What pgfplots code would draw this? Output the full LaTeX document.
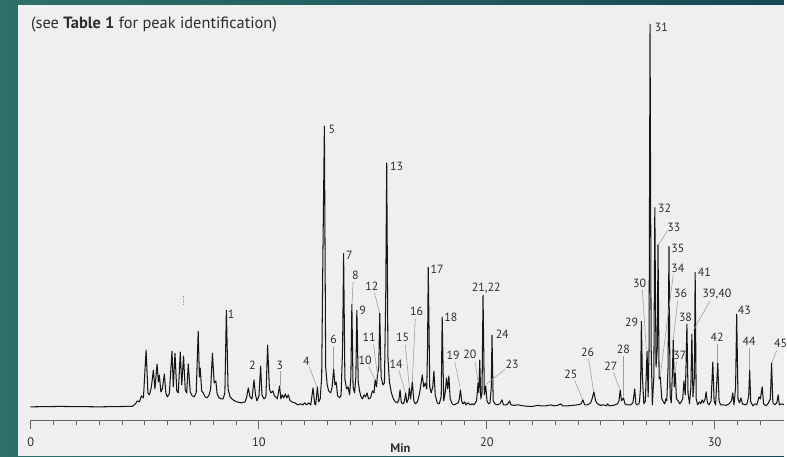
\documentclass[border=0pt]{standalone}
\usepackage{fontspec}
\setmainfont{PT Sans}
\usepackage{pgfplots}
\pgfplotsset{compat=1.18}
\definecolor{panel}{RGB}{238,240,239}
\definecolor{tealL}{RGB}{47,112,106}
\definecolor{tealR}{RGB}{22,72,84}
\definecolor{trace}{RGB}{22,22,22}
\definecolor{axcol}{RGB}{100,100,100}
\definecolor{lead}{RGB}{160,160,160}
\definecolor{lab}{RGB}{45,45,45}
\pgfplotstableread{
t h
0 0
1.285 0.4
3.028 0
4.466 0.5
4.597 3
4.684 6
4.771 5
4.858 11
4.946 9
5.063 57
5.142 14
5.207 12
5.294 20
5.381 37
5.447 18
5.543 43
5.599 25
5.643 32
5.708 15
5.773 18
5.861 33
5.926 14
5.991 10
6.078 13
6.196 56
6.253 20
6.327 54
6.405 16
6.471 14
6.558 55
6.623 22
6.702 51
6.776 17
6.841 14
6.906 43
6.993 15
7.081 11
7.168 10
7.255 14
7.342 76
7.394 30
7.429 39
7.495 16
7.560 14
7.647 10
7.734 9
7.821 12
7.887 18
7.965 54
8.039 24
8.113 26
8.170 13
8.257 9
8.344 8
8.431 8
8.510 14
8.575 97
8.649 18
8.736 10
8.867 7
9.041 5
9.216 4
9.390 5
9.455 9
9.534 19
9.608 10
9.695 8
9.782 27
9.848 12
9.913 6
10.000 11
10.074 41
10.131 12
10.218 8
10.305 10
10.379 62
10.458 18
10.523 14
10.610 16
10.675 11
10.741 10
10.806 8
10.902 21
10.959 8
11.024 12
11.089 9
11.155 13
11.220 9
11.285 12
11.351 7
11.438 5
11.569 4
11.699 2
11.830 3
11.917 2
12.004 4
12.092 2
12.179 4
12.266 2
12.366 19
12.440 3
12.484 2
12.558 20
12.614 5
12.680 8
12.745 30
12.797 150
12.863 282
12.919 40
12.985 22
13.050 16
13.137 14
13.203 20
13.268 38
13.325 22
13.377 25
13.442 11
13.529 9
13.595 12
13.660 60
13.704 154
13.760 28
13.834 18
13.900 20
13.965 12
14.022 30
14.065 103
14.118 20
14.183 14
14.240 30
14.283 97
14.344 25
14.401 16
14.466 10
14.532 8
14.597 12
14.662 10
14.728 14
14.793 8
14.880 9
14.967 16
15.033 14
15.085 27
15.142 20
15.185 32
15.242 40
15.285 94
15.346 30
15.425 22
15.490 24
15.547 110
15.590 245
15.643 50
15.708 25
15.795 14
15.882 8
15.970 5
16.057 4
16.122 7
16.174 17
16.231 4
16.318 3
16.370 6
16.418 14
16.471 4
16.536 8
16.580 19
16.636 8
16.710 25
16.776 6
16.841 3
16.928 5
16.993 10
17.059 18
17.146 32
17.211 20
17.277 24
17.342 18
17.377 60
17.407 140
17.473 20
17.538 14
17.603 20
17.656 36
17.712 12
17.800 4
17.887 3
17.974 10
18.017 90
18.083 6
18.148 14
18.205 29
18.257 18
18.309 31
18.366 8
18.453 3
18.540 2
18.627 3
18.715 4
18.767 8
18.815 17
18.876 5
18.933 3
18.998 5
19.063 2
19.150 4
19.238 2
19.325 3
19.412 2
19.521 6
19.586 24
19.621 14
19.660 47
19.708 8
19.760 14
19.804 112
19.861 12
19.922 21
19.978 6
20.044 3
20.109 4
20.166 20
20.196 72
20.248 6
20.327 3
20.414 2
20.545 3
20.632 7
20.697 2
20.806 2
20.893 3
20.967 6
21.024 2
21.155 1.5
21.329 2
21.547 1
21.765 0.5
21.983 0.5
22.200 1.5
22.331 1
22.549 1
22.767 2
22.898 1
23.072 1.5
23.203 3
23.290 1
23.508 1
23.726 1.5
23.943 2
24.096 3
24.174 7
24.248 2
24.379 2
24.510 4
24.575 8
24.654 15
24.728 6
24.815 3
24.946 1.5
25.076 2
25.207 1
25.251 3
25.338 1
25.512 1.5
25.686 3
25.752 6
25.804 17
25.861 6
25.948 9
26.013 3
26.122 2
26.253 2
26.362 4
26.440 18
26.492 3
26.558 2
26.645 4
26.697 20
26.732 86
26.776 30
26.841 3
26.906 6
26.981 56
27.028 10
27.068 60
27.111 384
27.159 60
27.211 2
27.277 30
27.320 200
27.373 40
27.429 60
27.460 163
27.508 28
27.560 30
27.625 8
27.691 5
27.756 3
27.800 8
27.843 6
27.900 40
27.939 161
27.987 12
28.039 4
28.083 30
28.127 67
28.170 20
28.214 34
28.266 8
28.344 6
28.410 3
28.475 5
28.540 8
28.593 26
28.650 12
28.684 40
28.724 83
28.772 14
28.837 3
28.898 20
28.941 73
28.989 10
29.050 30
29.085 135
29.129 8
29.194 2
29.260 5
29.325 3
29.390 7
29.447 4
29.521 8
29.564 15
29.621 4
29.695 2
29.782 6
29.857 45
29.913 6
29.978 2
30.074 44
30.131 6
30.196 2
30.305 2
30.436 1.5
30.566 3
30.675 6
30.728 14
30.784 2
30.854 20
30.902 93
30.959 8
31.024 4
31.089 9
31.155 3
31.264 2
31.351 3
31.425 10
31.469 37
31.517 5
31.612 1
31.699 3
31.787 2
31.874 10
31.939 8
32.017 20
32.078 3
32.179 1
32.266 3
32.375 8
32.428 44
32.484 4
32.571 2
32.658 4
32.715 12
32.767 2
32.876 3
33.007 2
}\chrom
\begin{document}
\begin{tikzpicture}
\shade[left color=tealL, right color=tealR] (0,0) rectangle (787bp,458bp);
\fill[panel] (18bp,0) rectangle (787bp,453bp);
\begin{axis}[at={(18bp,0bp)}, anchor=south west, scale only axis,
  width=769bp, height=453bp, xmin=-0.545, xmax=32.963, ymin=-49.5, ymax=403.5,
  hide axis, clip=true]
\addplot[color=trace, line width=1.05pt, line join=round, mark=none] table[x=t,y=h] {\chrom};
\end{axis}
\begin{axis}[at={(31bp,36bp)}, anchor=south west, scale only axis,
  width=756bp, height=1bp, xmin=0, xmax=33.03, ymin=0, ymax=1,
  axis x line=bottom, axis y line=none,
  x axis line style={-, line width=1pt, color=axcol},
  xtick={0,10,20,30}, minor xtick={1,2,...,32},
  tick align=outside,
  major tick length=9bp, minor tick length=5bp,
  every tick/.style={color=axcol, line width=0.8pt},
  /pgf/number format/assume math mode=true,
  xticklabel style={font=\fontsize{12.5}{12.5}\selectfont, text=lab, yshift=-5bp},
  clip=false]
\addplot[draw=none] coordinates {(0,0)};
\end{axis}
\begin{scope}[x=1bp, y=-1bp, shift={(0,458bp)}]
\node[anchor=center, text=lab, font=\fontsize{12.5}{12.5}\selectfont\bfseries] at (402,450) {Min};
\node[anchor=west, text=lab, inner sep=0pt, font=\fontsize{16.5}{16.5}\selectfont] at (31,25) {(see \textbf{Table 1} for peak identification)};
\draw[lead, densely dotted, line width=0.6pt] (184.3,297) -- (184.3,306);
\begin{scope}[lead, line width=0.6pt]
\draw (281,373) -- (281,388);
\draw (310.5,368.5) -- (318.5,389);
\draw (335,348) -- (335,370);
\draw (354.5,283) -- (353.5,305);
\draw (370,368) -- (376.5,381);
\draw (375,346) -- (379,376);
\draw (376,294) -- (381,314);
\draw (400.5,372) -- (407,394);
\draw (407,346) -- (411,389);
\draw (417,320) -- (414,383);
\draw (456.5,363) -- (462,389);
\draw (477,363) -- (480,384);
\draw (507,371) -- (488,386);
\draw (577,382) -- (585,401);
\draw (591,360) -- (596,393);
\draw (616,374) -- (622,390);
\draw (626,357) -- (626,398);
\draw (645,291) -- (649,351);
\draw (670,232) -- (661,246);
\draw (676,276) -- (663,377);
\draw (680.5,302) -- (676,341);
\draw (679.3,363) -- (677.7,375);
\draw (713,302) -- (696,332);
\draw (720.5,345) -- (720.5,364);
\draw (752.7,349) -- (752.7,371);
\draw (780,352) -- (775,364);
\end{scope}
\begin{scope}[every node/.style={text=lab, inner sep=0pt, font=\fontsize{12}{12}\selectfont}]
\node at (232,316) {1};
\node at (253.5,366.5) {2};
\node at (281,366.5) {3};
\node at (307.5,362.5) {4};
\node at (333.3,130) {5};
\node at (335,341) {6};
\node at (350.7,256) {7};
\node at (356.7,276) {8};
\node at (364,312) {9};
\node at (366.7,362) {10};
\node at (370.7,339) {11};
\node at (373.3,287.3) {12};
\node at (398.3,167) {13};
\node at (397.7,366) {14};
\node at (404.3,339) {15};
\node at (418.3,313) {16};
\node at (439,270) {17};
\node at (452.7,319) {18};
\node at (455,357) {19};
\node at (471.7,356) {20};
\node at (488.3,289) {21,22};
\node at (514.3,365.5) {23};
\node at (504.3,336) {24};
\node at (573.3,376) {25};
\node at (590,353.5) {26};
\node at (613.3,368) {27};
\node at (626,350.5) {28};
\node at (634.3,324) {29};
\node at (642.3,284.5) {30};
\node at (664,27) {31};
\node at (667.3,209) {32};
\node at (676.7,228.5) {33};
\node at (680.7,249) {35};
\node at (680.7,269) {34};
\node at (683.3,294.5) {36};
\node at (682.7,357) {37};
\node at (688.3,319) {38};
\node at (720,295) {39,40};
\node at (707.3,273.5) {41};
\node at (720,338.5) {42};
\node at (747.3,312) {43};
\node at (752.3,342.5) {44};
\node[anchor=west] at (777,345) {45};
\end{scope}
\end{scope}
\end{tikzpicture}
\end{document}
